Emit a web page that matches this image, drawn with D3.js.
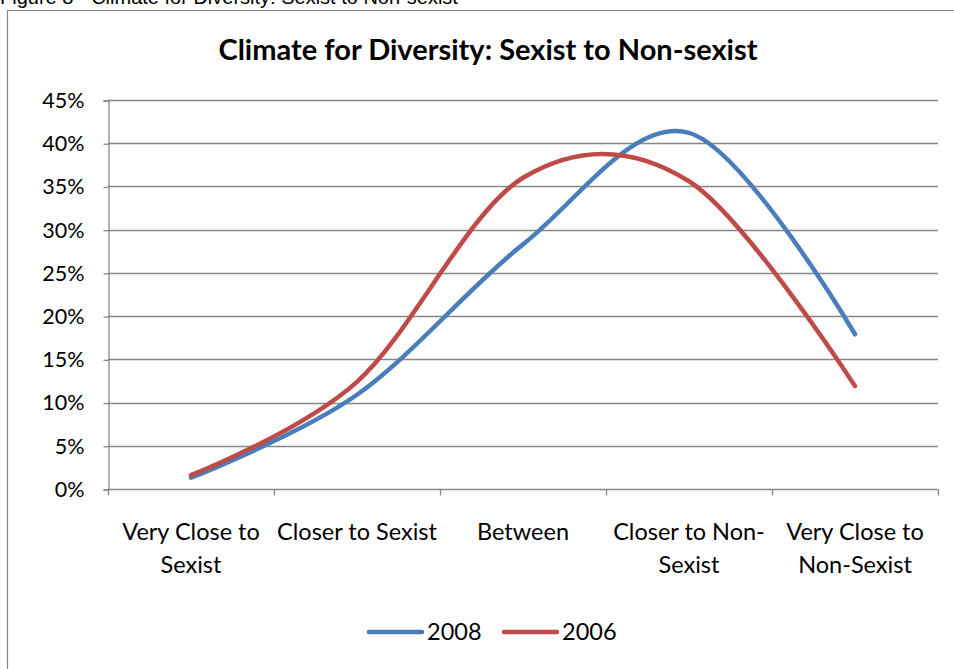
<!DOCTYPE html>
<html>
<head>
<meta charset="utf-8">
<script src="https://cdn.jsdelivr.net/npm/d3@7"></script>
<style>
  body { margin: 0; background: #fff; }
  svg { display: block; }
</style>
</head>
<body>
<script>
// values (percent)
var categories = ["Very Close to Sexist", "Closer to Sexist", "Between", "Closer to Non-Sexist", "Very Close to Non-Sexist"];
var label_lines = [["Very Close to", "Sexist"], ["Closer to Sexist"], ["Between"], ["Closer to Non-", "Sexist"], ["Very Close to", "Non-Sexist"]];
var values_2008 = [1.3, 10.9, 28.3, 41.2, 17.9];
var values_2006 = [1.6, 12.4, 36.0, 35.6, 11.9];
var series_names = ["2008", "2006"];
var y_ticks = [0, 5, 10, 15, 20, 25, 30, 35, 40, 45];

var width = 954, height = 669;
var font = "Lato, 'Open Sans', sans-serif";
var gridColor = "#878787";
var colors = {"2008": "#4a7ebb", "2006": "#be4b48"};

var svg = d3.select("body").append("svg")
    .attr("width", width)
    .attr("height", height);

// caption of the figure, cut off at the top like in the source
svg.append("text")
    .attr("x", 0).attr("y", 4)
    .style("font-family", "'Liberation Sans', Arial, sans-serif")
    .style("font-size", "20px")
    .text("Figure 8 - Climate for Diversity: Sexist to Non-sexist");

// chart frame (only left and top edges are visible)
svg.append("path")
    .attr("d", "M7.5," + height + "V10.5H" + width)
    .attr("fill", "none")
    .attr("stroke", gridColor)
    .attr("stroke-width", 1.2);

svg.append("text")
    .attr("x", 488).attr("y", 60)
    .attr("text-anchor", "middle")
    .style("font-family", font)
    .style("font-weight", "bold")
    .style("font-size", "29px")
    .text("Climate for Diversity: Sexist to Non-sexist");

var plot = {left: 108, right: 938, top: 100, bottom: 489};

var x = d3.scaleBand()
    .domain(categories)
    .range([plot.left, plot.right]);

var y = d3.scaleLinear()
    .domain([0, 45])
    .range([plot.bottom, plot.top]);

// gridlines
svg.append("g")
    .selectAll("line")
    .data(y_ticks.filter(d => d > 0))
    .enter()
    .append("line")
    .attr("x1", plot.left).attr("x2", plot.right)
    .attr("y1", d => Math.round(y(d)) + 0.5)
    .attr("y2", d => Math.round(y(d)) + 0.5)
    .attr("stroke", gridColor)
    .attr("stroke-width", 1.3);

// y axis
var yAxis = svg.append("g")
    .attr("transform", "translate(" + (plot.left + 0.5) + ",0.5)")
    .call(d3.axisLeft(y).tickValues(y_ticks).tickSize(5).tickPadding(19).tickFormat(d => d + "%"));
yAxis.select(".domain").attr("stroke", gridColor).attr("stroke-width", 1.3);
yAxis.selectAll(".tick line").attr("stroke", gridColor).attr("stroke-width", 1.3);
yAxis.selectAll("text")
    .style("font-family", font)
    .style("font-size", "21.5px")
    .attr("fill", "#000");

// x axis with ticks between categories
var xAxis = svg.append("g")
    .attr("transform", "translate(0," + (plot.bottom + 0.5) + ")");
xAxis.append("line")
    .attr("x1", plot.left).attr("x2", plot.right)
    .attr("stroke", gridColor).attr("stroke-width", 1.3);
var boundaries = categories.map(c => x(c)).concat([x.range()[1]]);
xAxis.selectAll(".xtick")
    .data(boundaries)
    .enter()
    .append("line")
    .attr("class", "xtick")
    .attr("x1", d => Math.round(d) + 0.5).attr("x2", d => Math.round(d) + 0.5)
    .attr("y1", 0).attr("y2", 6)
    .attr("stroke", gridColor).attr("stroke-width", 1.3);

var labels = xAxis.selectAll(".xlabel")
    .data(categories)
    .enter()
    .append("text")
    .attr("class", "xlabel")
    .attr("text-anchor", "middle")
    .style("font-family", font)
    .style("font-size", "23.5px")
    .attr("fill", "#000");
labels.each(function (d, i) {
    d3.select(this).selectAll("tspan")
        .data(label_lines[i])
        .enter()
        .append("tspan")
        .attr("x", x(d) + x.bandwidth() / 2)
        .attr("y", (t, j) => 50 + j * 33)
        .text(t => t);
});

// series lines, smoothed like the spreadsheet
var line = d3.line()
    .x((d, i) => x(categories[i]) + x.bandwidth() / 2)
    .y(d => y(d))
    .curve(d3.curveCatmullRom.alpha(0));

var series = [
    {name: "2008", values: values_2008},
    {name: "2006", values: values_2006}
];

svg.append("g")
    .selectAll("path")
    .data(series)
    .enter()
    .append("path")
    .attr("d", d => line(d.values))
    .attr("fill", "none")
    .attr("stroke", d => colors[d.name])
    .attr("stroke-width", 4.5)
    .attr("stroke-linecap", "round")
    .attr("stroke-linejoin", "round");

// legend
var legend = svg.append("g")
    .attr("transform", "translate(369,632)");
var items = legend.selectAll("g")
    .data(series_names)
    .enter()
    .append("g")
    .attr("transform", (d, i) => "translate(" + (i * 135) + ",0)");
items.append("line")
    .attr("x1", 0).attr("x2", 53)
    .attr("stroke", d => colors[d])
    .attr("stroke-width", 4.5)
    .attr("stroke-linecap", "round");
items.append("text")
    .attr("x", 58).attr("y", 8)
    .style("font-family", font)
    .style("font-size", "23.5px")
    .text(d => d);
</script>
</body>
</html>
